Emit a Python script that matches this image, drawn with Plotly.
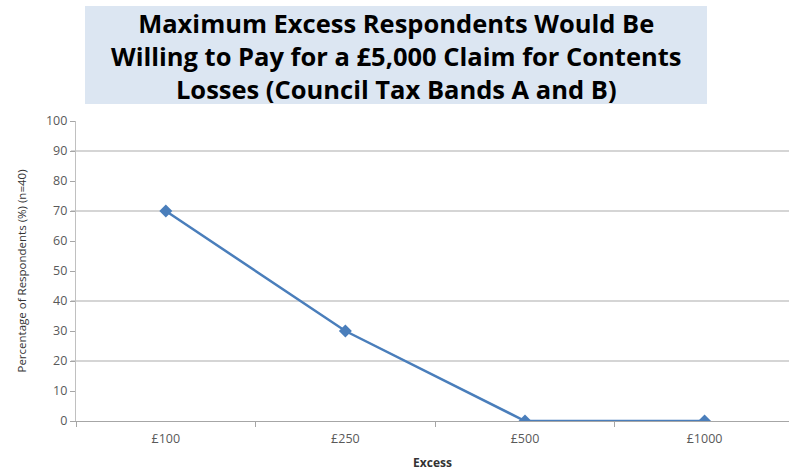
import plotly.graph_objects as go

# Survey results
excess_levels = ["£100", "£250", "£500", "£1000"]
pct_respondents = [70, 30, 0, 0]
y_ticks = [0, 10, 20, 30, 40, 50, 60, 70, 80, 90, 100]
grid_levels = [20, 40, 70, 90]

title_lines = ["Maximum Excess Respondents Would Be",
               "Willing to Pay for a £5,000 Claim for Contents",
               "Losses (Council Tax Bands A and B)"]

W, H = 789, 473
L, R, T, B = 76, 0, 121, 52
plot_w = W - L - R
plot_h = H - T - B


def px_x(px):
    """pixel column -> paper x"""
    return (px - L) / plot_w


def px_y(py):
    """pixel row (from top) -> paper y"""
    return (H - B - py) / plot_h


fig = go.Figure()
fig.add_trace(go.Scatter(
    x=excess_levels,
    y=pct_respondents,
    mode="lines+markers",
    line=dict(color="#4A7EBB", width=2.5),
    marker=dict(symbol="diamond", size=10, color="#4A7EBB"),
    showlegend=False,
    hoverinfo="x+y",
))

# light horizontal gridlines
for g in grid_levels:
    fig.add_shape(type="line", xref="paper", yref="y", x0=-5 / plot_w, x1=1,
                  y0=g, y1=g, line=dict(color="#ABABAB", width=1.2), layer="below")

# boxed title: shaded panel with the three-line heading on top
fig.add_shape(type="rect", xref="paper", yref="paper",
              x0=px_x(85), x1=px_x(707), y0=px_y(104), y1=px_y(6),
              fillcolor="#DCE6F2", line=dict(width=0), layer="below")
fig.add_annotation(
    text="<br>".join(title_lines),
    xref="paper", yref="paper",
    x=px_x(396), y=px_y(56),
    xanchor="center", yanchor="middle",
    showarrow=False,
    align="center",
    font=dict(family="Open Sans", size=25.5, color="#000000", weight="bold"),
)

fig.update_layout(
    width=W, height=H,
    margin=dict(l=L, r=R, t=T, b=B),
    paper_bgcolor="white",
    plot_bgcolor="white",
    font=dict(family="Open Sans", color="#595959"),
    xaxis=dict(
        type="category",
        range=[-0.5, 3.47],
        showgrid=False,
        showline=True, linecolor="#A6A6A6", linewidth=1.2,
        ticks="outside", ticklen=5, tickcolor="#A6A6A6",
        tickson="boundaries",
        ticklabelstandoff=6,
        tickfont=dict(size=12.5, color="#595959"),
        title=dict(text="<b>Excess</b>", font=dict(size=12, color="#333333"), standoff=12),
        zeroline=False,
    ),
    yaxis=dict(
        range=[0, 100],
        tickvals=y_ticks,
        showgrid=False,
        showline=True, linecolor="#C0C0C0", linewidth=1.2,
        ticks="outside", ticklen=5, tickcolor="#A6A6A6",
        tickfont=dict(size=12.5, color="#595959"),
        title=dict(text="Percentage of Respondents (%) (n=40)",
                   font=dict(size=11.5, color="#333333"), standoff=16),
        zeroline=False,
    ),
)

fig.write_html("out.html")
